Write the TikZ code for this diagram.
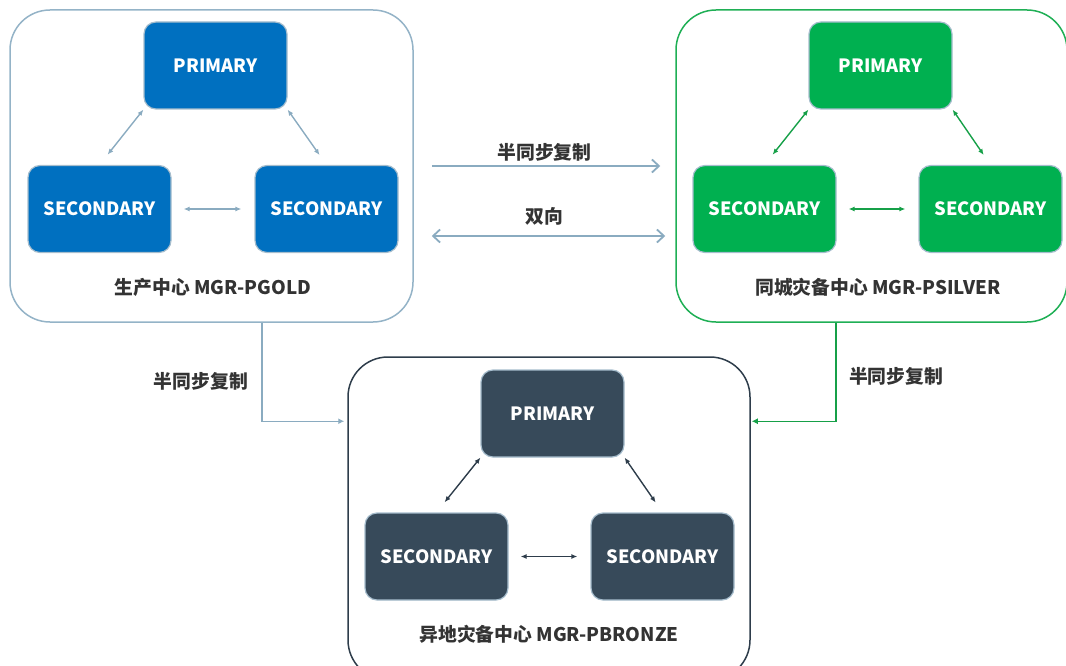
\documentclass[tikz,border=0pt]{standalone}
\usepackage{fontspec}
\setmainfont{Noto Sans CJK SC}
\usetikzlibrary{arrows.meta,calc}

\definecolor{goldfill}{HTML}{0070C0}
\definecolor{goldline}{HTML}{94B3C7}
\definecolor{goldarrow}{HTML}{8AABC0}
\definecolor{silverfill}{HTML}{00B050}
\definecolor{silverline}{HTML}{1FAF55}
\definecolor{silverarrow}{HTML}{16A048}
\definecolor{bronzefill}{HTML}{374A5A}
\definecolor{bronzeline}{HTML}{2E3D4B}
\definecolor{boxedge}{HTML}{A6BDCD}
\definecolor{labeltext}{HTML}{333333}

\tikzset{
  site/.style={draw=#1, line width=1.5pt, rounded corners=40pt},
  db/.style={fill=#1, draw=boxedge, line width=1.2pt, rounded corners=12pt,
    minimum width=143pt, minimum height=87pt, text=white,
    font=\fontsize{18.3}{20}\selectfont\bfseries},
  sitelabel/.style={text=labeltext, font=\fontsize{18.8}{21}\selectfont\bfseries},
  linklabel/.style={text=labeltext, font=\fontsize{18.8}{21}\selectfont\bfseries},
  inner/.style={draw=#1, line width=1.4pt,
    {Latex[length=6pt,width=5pt]}-{Latex[length=6pt,width=5pt]}},
}

\begin{document}
\begin{tikzpicture}[x=1pt,y=-1pt]
  \useasboundingbox (0,0) rectangle (1066,666);

  % sites
  \node[site=goldline, minimum width=403pt, minimum height=312pt] (gold) at (211.5,166) {};
  \node[site=silverline, minimum width=391pt, minimum height=312pt] (silver) at (871.5,166) {};
  \node[site=bronzeline, minimum width=402pt, minimum height=323pt] (bronze) at (549,518.5) {};

  % gold site
  \node[db=goldfill] (goldP) at (215.5,65.5) {PRIMARY};
  \node[db=goldfill] (goldS1) at (99.5,209) {SECONDARY};
  \node[db=goldfill] (goldS2) at (326.5,209) {SECONDARY};
  \node[sitelabel] (goldL) at (213,287) {生产中心 MGR-PGOLD};
  \draw[inner=goldarrow, shorten >=13pt] (goldP.south west) -- (goldS1.north);
  \draw[inner=goldarrow, shorten >=12pt] (goldP.south east) -- (goldS2.north);
  \draw[inner=goldarrow, shorten <=12pt, shorten >=13pt] (goldS1.east) -- (goldS2.west);

  % silver site
  \node[db=silverfill] (silverP) at (880.5,65.5) {PRIMARY};
  \node[db=silverfill] (silverS1) at (764.5,209) {SECONDARY};
  \node[db=silverfill] (silverS2) at (990.5,209) {SECONDARY};
  \node[sitelabel] (silverL) at (878,287) {同城灾备中心 MGR-PSILVER};
  \draw[inner=silverarrow, shorten >=13pt] (silverP.south west) -- (silverS1.north);
  \draw[inner=silverarrow, shorten >=12pt] (silverP.south east) -- (silverS2.north);
  \draw[inner=silverarrow, shorten <=12pt, shorten >=13pt] (silverS1.east) -- (silverS2.west);

  % bronze site
  \node[db=bronzefill] (bronzeP) at (552.5,413.5) {PRIMARY};
  \node[db=bronzefill] (bronzeS1) at (436.5,556.5) {SECONDARY};
  \node[db=bronzefill] (bronzeS2) at (662.5,556.5) {SECONDARY};
  \node[sitelabel] (bronzeL) at (549,634) {异地灾备中心 MGR-PBRONZE};
  \draw[inner=bronzeline, shorten >=13pt] (bronzeP.south west) -- (bronzeS1.north);
  \draw[inner=bronzeline, shorten >=12pt] (bronzeP.south east) -- (bronzeS2.north);
  \draw[inner=bronzeline, shorten <=12pt, shorten >=13pt] (bronzeS1.east) -- (bronzeS2.west);

  % links between sites
  \draw[draw=goldarrow, line width=1.8pt, -{Straight Barb[length=7pt,width=13pt]},
    shorten <=18pt, shorten >=15pt]
    (gold.east) -- (silver.west) node[midway, above=0pt, linklabel] (syncA) {半同步复制};
  \draw[draw=goldarrow, line width=1.8pt,
    {Straight Barb[length=7pt,width=13pt]}-{Straight Barb[length=7pt,width=13pt]},
    shorten <=18pt, shorten >=10pt]
    ($(gold.east)+(0,70)$) -- ($(silver.west)+(0,70)$) node[midway, above=6pt, linklabel] (both) {双向};
  \draw[draw=goldarrow, line width=1.5pt, -{Latex[length=6pt,width=6pt]}, shorten >=3pt]
    ($(gold.south)+(50.5,0)$) |- ($(bronze.north west)+(0,65)$)
    node[pos=0.3, left=10pt, linklabel] (syncB) {半同步复制};
  \draw[draw=silverarrow, line width=1.5pt, -{Latex[length=6pt,width=6pt]}, shorten >=1pt]
    ($(silver.south)+(-35.5,0)$) |- ($(bronze.north east)+(0,65)$)
    node[pos=0.27, right=9pt, linklabel] (syncC) {半同步复制};
\end{tikzpicture}
\end{document}
